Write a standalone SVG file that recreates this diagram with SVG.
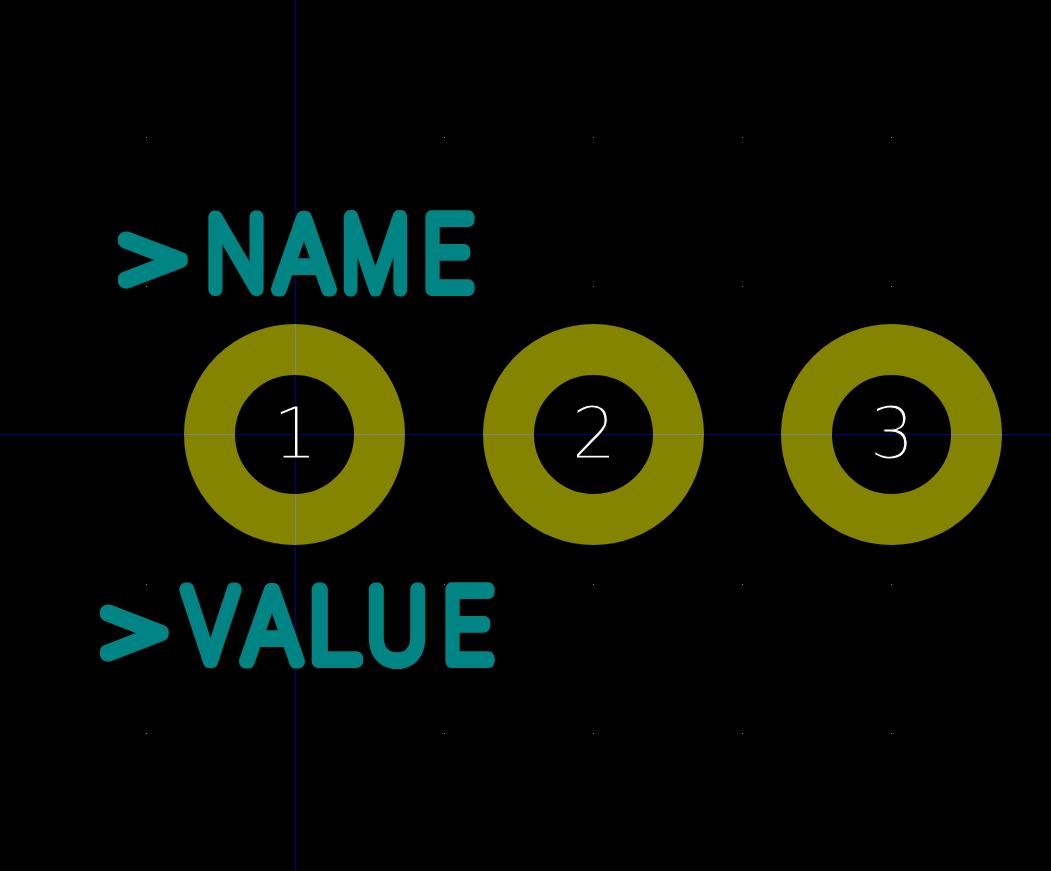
<svg xmlns="http://www.w3.org/2000/svg" width="1051" height="871" viewBox="0 0 1051 871">
<style>
.bg{fill:#000}
.pad{fill:none;stroke:#848400;stroke-width:51}
.axis{stroke:#000084;stroke-width:1;fill:none}
.over{stroke:#848484;stroke-width:1;fill:none}
.silk{font-family:"Roboto","Liberation Sans",sans-serif;font-weight:100;font-size:100px;fill:#008484;stroke:#008484;stroke-width:14;stroke-linejoin:round}
.num{font-family:"DejaVu Sans",sans-serif;font-weight:200;font-size:71px;fill:#fff;stroke:#000;stroke-width:1;text-anchor:middle}
.dot{fill:#848484}
</style>
<rect class="bg" width="1051" height="871"/>
<g id="grid">
<rect class="dot" x="146" y="137" width="1" height="1"/><rect class="dot" x="444" y="137" width="1" height="1"/><rect class="dot" x="593" y="137" width="1" height="1"/><rect class="dot" x="742" y="137" width="1" height="1"/><rect class="dot" x="891" y="137" width="1" height="1"/>
<rect class="dot" x="146" y="286" width="1" height="1"/><rect class="dot" x="444" y="286" width="1" height="1"/><rect class="dot" x="593" y="286" width="1" height="1"/><rect class="dot" x="742" y="286" width="1" height="1"/><rect class="dot" x="891" y="286" width="1" height="1"/>
<rect class="dot" x="146" y="584" width="1" height="1"/><rect class="dot" x="444" y="584" width="1" height="1"/><rect class="dot" x="593" y="584" width="1" height="1"/><rect class="dot" x="742" y="584" width="1" height="1"/><rect class="dot" x="891" y="584" width="1" height="1"/>
<rect class="dot" x="146" y="733" width="1" height="1"/><rect class="dot" x="444" y="733" width="1" height="1"/><rect class="dot" x="593" y="733" width="1" height="1"/><rect class="dot" x="742" y="733" width="1" height="1"/><rect class="dot" x="891" y="733" width="1" height="1"/>
</g>
<g id="connectors">
<path class="axis" d="M0 434.500H1051"/>
<path class="axis" d="M295.500 0V871"/>
</g>
<g id="pad1"><circle class="pad" cx="294.500" cy="434.500" r="85"/><path class="over" d="M184 434.500H235M354 434.500H405M295.500 324V375M295.500 494V545"/><text class="num" x="295" y="458">1</text></g>
<g id="pad2"><circle class="pad" cx="593.500" cy="434.500" r="85"/><path class="over" d="M483 434.500H533M653 434.500H704"/><text class="num" x="594" y="458">2</text></g>
<g id="pad3"><circle class="pad" cx="891.500" cy="434.500" r="85"/><path class="over" d="M781 434.500H832M951 434.500H1002"/><text class="num" x="892" y="458">3</text></g>
<g id="name"><text class="silk"><tspan x="119" y="296" font-size="110" textLength="67" lengthAdjust="spacingAndGlyphs">&gt;</tspan><tspan x="206" y="289" textLength="60" lengthAdjust="spacingAndGlyphs">N</tspan><tspan x="276" y="289" textLength="56" lengthAdjust="spacingAndGlyphs">A</tspan><tspan x="342" y="289" textLength="67" lengthAdjust="spacingAndGlyphs" stroke-width="15">M</tspan><tspan x="423" y="289" textLength="49" lengthAdjust="spacingAndGlyphs">E</tspan></text></g>
<g id="value"><text class="silk"><tspan x="101" y="669" font-size="110" textLength="66" lengthAdjust="spacingAndGlyphs">&gt;</tspan><tspan x="184" y="661" textLength="53" lengthAdjust="spacingAndGlyphs">V</tspan><tspan x="244" y="661" textLength="56" lengthAdjust="spacingAndGlyphs">A</tspan><tspan x="309" y="661" textLength="50" lengthAdjust="spacingAndGlyphs">L</tspan><tspan x="367" y="661" textLength="60" lengthAdjust="spacingAndGlyphs">U</tspan><tspan x="443" y="661" textLength="49" lengthAdjust="spacingAndGlyphs">E</tspan></text></g>
</svg>
